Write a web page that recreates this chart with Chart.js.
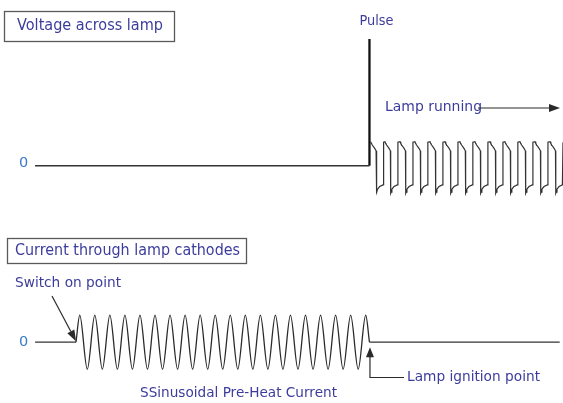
<!DOCTYPE html>
<html>
<head>
<meta charset="utf-8">
<script src="https://cdn.jsdelivr.net/npm/chart.js@4.4.1/dist/chart.umd.min.js"></script>
<style>
  html, body { margin: 0; padding: 0; background: #fff; }
  #lampChart { display: block; }
</style>
</head>
<body>
<canvas id="lampChart" width="563" height="403"></canvas>
<script>
// time is in periods of the pre-heat current, 0 = switch on point
const traceStart = -2.72;
const traceEnd = 32.14;
const ignitionTime = 19.5;
const pulseHeight = 5.28;

// pre-heat current: zero crossings, peaks and troughs
const preheatTime = [
  0, 0.25, 0.75, 1.25, 1.75, 2.25, 2.75, 3.25, 3.75, 4.25, 4.75,
  5.25, 5.75, 6.25, 6.75, 7.25, 7.75, 8.25, 8.75, 9.25, 9.75,
  10.25, 10.75, 11.25, 11.75, 12.25, 12.75, 13.25, 13.75, 14.25, 14.75,
  15.25, 15.75, 16.25, 16.75, 17.25, 17.75, 18.25, 18.75, 19.25, 19.5,
];
const preheatCurrent = [
  0, 1, -1, 1, -1, 1, -1, 1, -1, 1, -1,
  1, -1, 1, -1, 1, -1, 1, -1, 1, -1,
  1, -1, 1, -1, 1, -1, 1, -1, 1, -1,
  1, -1, 1, -1, 1, -1, 1, -1, 1, 0,
];

// lamp running voltage: start of each cycle and the shape of one cycle
const lampCycleStart = [
  19.58, 20.53, 21.53, 22.52, 23.52, 24.52, 25.51,
  26.51, 27.51, 28.5, 29.5, 30.5, 31.5, 32.49,
];
const lampCycleOffset = [0, 0.05, 0.11, 0.27, 0.36, 0.38, 0.41, 0.46, 0.6, 0.82, 0.86];
const lampCycleVoltage = [1.0, 0.93, 0.86, 0.72, 0.62, -1.15, -1.1, -0.98, -0.87, -0.8, 0.98];

const lampPoints = [];
lampCycleStart.forEach((t0) => {
  lampCycleOffset.forEach((dt, i) => {
    lampPoints.push({ x: t0 + dt, y: lampCycleVoltage[i] });
  });
});

const preheatPoints = preheatTime.map((t, i) => ({ x: t, y: preheatCurrent[i] }));

const ink = "#2a2a2a";
const textBlue = "#3c3c9c";
const zeroBlue = "#3a7acb";

function label(ctx, text, x, y, maxW, size, color) {
  ctx.font = size + "px 'DejaVu Sans'";
  ctx.fillStyle = color || textBlue;
  ctx.textAlign = "left";
  ctx.textBaseline = "middle";
  ctx.fillText(text, x, y, maxW);
}

function arrow(ctx, x1, y1, x2, y2, len, w) {
  const a = Math.atan2(y2 - y1, x2 - x1);
  const bx = x2 - len * Math.cos(a);
  const by = y2 - len * Math.sin(a);
  ctx.beginPath();
  ctx.moveTo(x1, y1);
  ctx.lineTo(bx, by);
  ctx.stroke();
  ctx.beginPath();
  ctx.moveTo(x2, y2);
  ctx.lineTo(bx + (w / 2) * Math.sin(a), by - (w / 2) * Math.cos(a));
  ctx.lineTo(bx - (w / 2) * Math.sin(a), by + (w / 2) * Math.cos(a));
  ctx.closePath();
  ctx.fill();
}

const notes = {
  id: "notes",
  afterDatasetsDraw(chart) {
    const { ctx, scales } = chart;
    const sx = scales.x;
    const yV0 = scales.yV.getPixelForValue(0);
    const yI0 = scales.yI.getPixelForValue(0);
    const xOn = sx.getPixelForValue(0);
    const xIgn = sx.getPixelForValue(ignitionTime);
    ctx.save();

    // title boxes
    ctx.strokeStyle = "#5a5a5a";
    ctx.lineWidth = 1.3;
    ctx.strokeRect(4.5, 11.5, 170, 30);
    ctx.strokeRect(7.5, 238.5, 239, 25);
    label(ctx, "Voltage across lamp", 17, 26.5, 146, 15);
    label(ctx, "Current through lamp cathodes", 15, 251.5, 225, 15);

    // zero labels
    label(ctx, "0", 19, yV0 - 2, 10, 14.5, zeroBlue);
    label(ctx, "0", 19, yI0, 10, 14.5, zeroBlue);

    // top panel notes
    label(ctx, "Pulse", xIgn - 10, 21, 34, 14.5);
    label(ctx, "Lamp running", 385, 107, 97, 14.5);
    ctx.strokeStyle = ink;
    ctx.fillStyle = ink;
    ctx.lineWidth = 1.2;
    arrow(ctx, 478, 108, 560, 108, 11, 8);

    // bottom panel notes
    label(ctx, "Switch on point", 15, 283.5, 106, 14.5);
    ctx.strokeStyle = ink;
    ctx.fillStyle = ink;
    arrow(ctx, 52, 296, xOn, yI0 - 1, 11, 8);

    ctx.beginPath();
    ctx.moveTo(404, 377.5);
    ctx.lineTo(xIgn + 0.5, 377.5);
    ctx.lineTo(xIgn + 0.5, 356);
    ctx.stroke();
    arrow(ctx, xIgn + 0.5, 357, xIgn + 0.5, yI0 + 5, 10, 8);
    label(ctx, "Lamp ignition point", 407, 377.5, 133, 14.5);
    label(ctx, "SSinusoidal Pre-Heat Current", 140, 393.5, 197, 14.5);

    ctx.restore();
  },
};

const data = {
  datasets: [
    {
      label: "Voltage baseline",
      data: [{ x: traceStart, y: 0 }, { x: ignitionTime, y: 0 }],
      yAxisID: "yV",
      borderColor: "#333",
      borderWidth: 1.4,
    },
    {
      label: "Pulse",
      data: [{ x: ignitionTime, y: 0 }, { x: ignitionTime, y: pulseHeight }],
      yAxisID: "yV",
      borderColor: "#111",
      borderWidth: 2.3,
    },
    {
      label: "Lamp running",
      data: lampPoints,
      yAxisID: "yV",
      borderColor: "#333",
      borderWidth: 1.2,
    },
    {
      label: "Current before switch on",
      data: [{ x: traceStart, y: 0 }, { x: 0, y: 0 }],
      yAxisID: "yI",
      borderColor: "#333",
      borderWidth: 1.3,
    },
    {
      label: "Pre-heat current",
      data: preheatPoints,
      yAxisID: "yI",
      borderColor: "#2a2a2a",
      borderWidth: 1.3,
      cubicInterpolationMode: "monotone",
    },
    {
      label: "Current after ignition",
      data: [{ x: ignitionTime, y: 0 }, { x: traceEnd, y: 0 }],
      yAxisID: "yI",
      borderColor: "#333",
      borderWidth: 1.3,
    },
  ],
};

const config = {
  type: "line",
  data: data,
  options: {
    responsive: false,
    animation: false,
    devicePixelRatio: 1,
    layout: { padding: 0 },
    elements: {
      point: { radius: 0 },
      line: { tension: 0, fill: false },
    },
    plugins: {
      legend: { display: false },
      tooltip: { enabled: false },
    },
    scales: {
      x: { type: "linear", display: false, min: -5.05, max: 32.36 },
      yV: { type: "linear", display: false, min: -9.888, max: 6.904 },
      yI: { type: "linear", display: false, min: -2.252, max: 12.674 },
    },
  },
  plugins: [notes],
};

const lampChart = new Chart(document.getElementById("lampChart").getContext("2d"), config);
</script>
</body>
</html>
